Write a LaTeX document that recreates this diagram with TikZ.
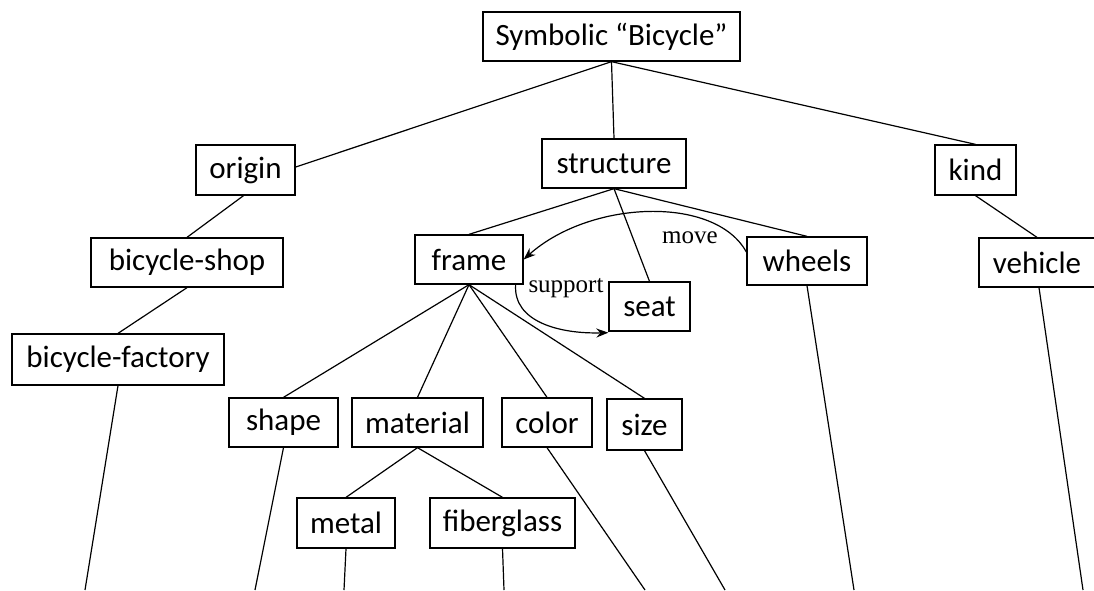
\documentclass[tikz,border=0pt]{standalone}
\usepackage{fontspec}
\setmainfont{Carlito}
\newfontfamily\labelfont{Liberation Serif}
\usetikzlibrary{arrows.meta}
\begin{document}
\begin{tikzpicture}[x=1pt,y=-1pt,
  box/.style={draw, line width=1.3pt, rectangle, inner sep=0pt,
    font=\fontsize{31}{36}\selectfont},
  link/.style={line width=1.2pt},
  relarrow/.style={line width=1.2pt, -{Stealth[length=12pt,width=9pt]}},
  rellabel/.style={font=\labelfont\fontsize{25}{28}\selectfont, inner sep=0pt}]
\useasboundingbox (0,0) rectangle (1094,590);

% concept boxes
\node[box, minimum width=257pt, minimum height=49pt] (bicycle) at (611.5,36.5) {Symbolic “Bicycle”};
\node[box, minimum width=99pt, minimum height=50pt] (origin) at (245.5,170) {origin};
\node[box, minimum width=144pt, minimum height=49pt] (structure) at (614,163.5) {structure};
\node[box, minimum width=81pt, minimum height=50pt] (kind) at (975.5,170) {kind};
\node[box, minimum width=192pt, minimum height=49pt] (shop) at (187,262.5) {bicycle-shop};
\node[box, minimum width=108pt, minimum height=49pt] (frame) at (469,259.5) {frame};
\node[box, minimum width=81pt, minimum height=49pt] (seat) at (649.5,306.5) {seat};
\node[box, minimum width=120pt, minimum height=48pt] (wheels) at (807,261) {wheels};
\node[box, minimum width=116pt, minimum height=49pt] (vehicle) at (1037,262.5) {vehicle};
\node[box, minimum width=212pt, minimum height=51pt] (factory) at (118,359.5) {bicycle-factory};
\node[box, minimum width=109pt, minimum height=49pt] (shape) at (283.5,422.5) {shape};
\node[box, minimum width=131pt, minimum height=49pt] (material) at (417.5,422.5) {material};
\node[box, minimum width=90pt, minimum height=49pt] (color) at (547,422.5) {color};
\node[box, minimum width=75pt, minimum height=51pt] (size) at (644.5,424.5) {size};
\node[box, minimum width=98pt, minimum height=50pt] (metal) at (346,523) {metal};
\node[box, minimum width=145pt, minimum height=50pt] (fiber) at (502.5,523) {fiberglass};

% loose ends running off the lower edge
\coordinate (eFactory) at (85,590);
\coordinate (eShape) at (255,590);
\coordinate (eMetal) at (344,590);
\coordinate (eFiber) at (504,590);
\coordinate (eColor) at (645,590);
\coordinate (eSize) at (725,590);
\coordinate (eWheels) at (854,590);
\coordinate (eVehicle) at (1083,590);

% tree links
\draw[link] (bicycle.south) -- ([yshift=3pt]origin.east);
\draw[link] (bicycle.south) -- (structure.north);
\draw[link] (bicycle.south) -- (kind.north);
\draw[link] ([xshift=-2pt]origin.south) -- (shop.north);
\draw[link] (shop.south) -- (factory.north);
\draw[link] (kind.south) -- (vehicle.north);
\draw[link] (structure.south) -- (frame.north);
\draw[link] (structure.south) -- (seat.north);
\draw[link] (structure.south) -- (wheels.north);
\draw[link] (frame.south) -- (shape.north);
\draw[link] (frame.south) -- (material.north);
\draw[link] (frame.south) -- (color.north);
\draw[link] (frame.south) -- (size.north);
\draw[link] (material.south) -- (metal.north);
\draw[link] (material.south) -- (fiber.north);

\draw[link] (factory.south) -- (eFactory);
\draw[link] (shape.south) -- (eShape);
\draw[link] (metal.south) -- (eMetal);
\draw[link] (fiber.south) -- (eFiber);
\draw[link] (color.south) -- (eColor);
\draw[link] (size.south) -- (eSize);
\draw[link] (wheels.south) -- (eWheels);
\draw[link] ([xshift=2pt]vehicle.south) -- (eVehicle);

% relations between parts
\draw[relarrow] ([yshift=9pt]wheels.west) .. controls (715,195) and (590,200) .. (frame.east);
\node[rellabel] (move) at (690,238) {move};
\draw[relarrow] ([xshift=-8pt]frame.south east) .. controls (513,322) and (560,334) .. ([yshift=-1pt]seat.south west);
\node[rellabel] (support) at (566,288) {support};
\end{tikzpicture}
\end{document}
